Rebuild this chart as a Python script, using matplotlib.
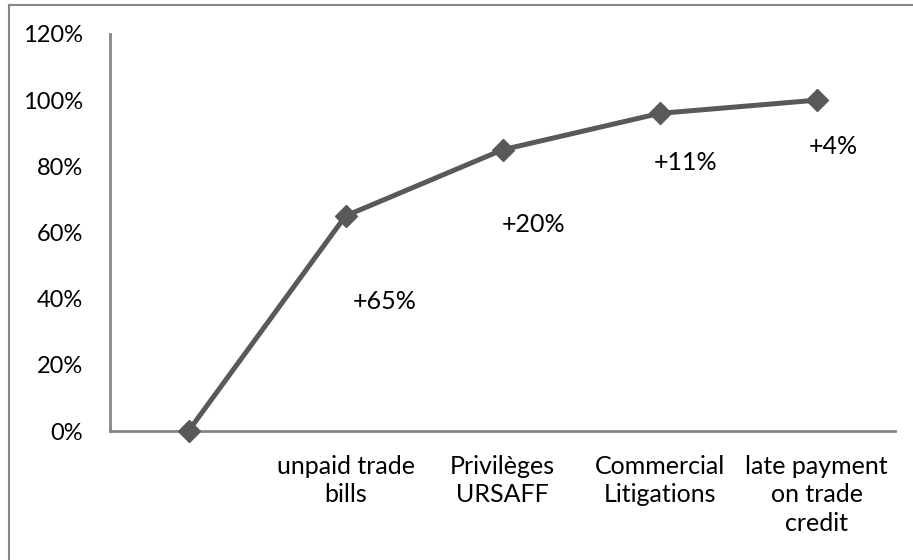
import matplotlib
matplotlib.use("Agg")
import matplotlib.pyplot as plt
from matplotlib.lines import Line2D
from matplotlib.ticker import FuncFormatter

categories = ["", "unpaid trade\nbills", "Privilèges\nURSAFF", "Commercial\nLitigations", "late payment\non trade\ncredit"]
cumulative = [0, 65, 85, 96, 100]
increments = ["", "+65%", "+20%", "+11%", "+4%"]
y_ticks = [0, 20, 40, 60, 80, 100, 120]

plt.rcParams['font.family'] = ['Lato', 'DejaVu Sans']
W, H = 913, 560
fig = plt.figure(figsize=(W/100, H/100), dpi=100)
ax = fig.add_axes([110/W, 1-431/H, (895-110)/W, (431-34)/H])

gray = '#595959'
axis_gray = '#868686'
x = list(range(len(categories)))
ax.plot(x, cumulative, color=gray, lw=3.6, marker='D', markersize=11, markeredgecolor=gray,
        markerfacecolor=gray, solid_capstyle='round', clip_on=False, zorder=3)

offsets = [(0, 0), (39, -86), (31, -75), (26, -49), (17, -46)]
for i, (lab, off) in enumerate(zip(increments, offsets)):
    if lab:
        ax.annotate(lab, (x[i], cumulative[i]), xytext=off, textcoords='offset pixels',
                    ha='center', va='center', fontsize=18, color='black')

ax.set_xlim(-0.5, len(categories)-0.5)
ax.set_ylim(0, 120)
ax.set_yticks(y_ticks)
ax.yaxis.set_major_formatter(FuncFormatter(lambda v, p: f"{int(v)}%"))
ax.set_xticks(x)
ax.set_xticklabels(categories, fontsize=18, linespacing=1.3)
ax.tick_params(axis='both', length=0, colors='black')
ax.tick_params(axis='y', pad=19.5, labelsize=17)
ax.tick_params(axis='x', pad=17)
for lab in ax.get_yticklabels():
    lab.set_horizontalalignment('right')
for s in ['top', 'right']:
    ax.spines[s].set_visible(False)
for s in ['left', 'bottom']:
    ax.spines[s].set_color(axis_gray)
    ax.spines[s].set_linewidth(2)

# outer chart border (left and top edges visible)
fig.add_artist(Line2D([8.5/W, 8.5/W], [0, 1-4.5/H], transform=fig.transFigure, color=axis_gray, lw=1.5))
fig.add_artist(Line2D([8.5/W, 1], [1-4.5/H, 1-4.5/H], transform=fig.transFigure, color=axis_gray, lw=1.5))

fig.savefig("out.png", dpi=100, facecolor='white')
